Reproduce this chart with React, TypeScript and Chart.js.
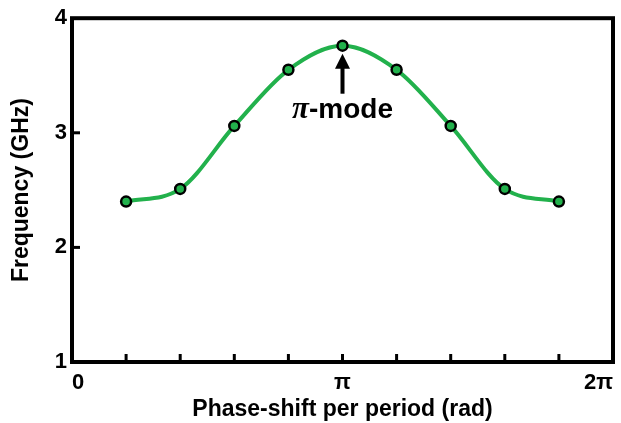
import React, { useEffect, useRef } from "react";
import { Chart, registerables } from "chart.js";

Chart.register(...registerables);

// Phase shift per period, in units of π
const PHASE = [0.2, 0.4, 0.6, 0.8, 1.0, 1.2, 1.4, 1.6, 1.8];
// Frequency in GHz
const FREQ = [2.4, 2.51, 3.06, 3.55, 3.76, 3.55, 3.06, 2.51, 2.4];

const X_TICKS = [0, 0.2, 0.4, 0.6, 0.8, 1.0, 1.2, 1.4, 1.6, 1.8, 2.0];
const X_TICK_LABELS = ["0", "", "", "", "", "π", "", "", "", "", "2π"];
const Y_TICKS = [1, 2, 3, 4];
const Y_TICK_LABELS = ["1", "2", "3", "4"];

const X_TITLE = "Phase-shift per period (rad)";
const Y_TITLE = "Frequency (GHz)";
const ANNOTATION_INDEX = 4;
const ANNOTATION_SYMBOL = "π";
const ANNOTATION_TEXT = "-mode";

const GREEN = "#22b14c";
const SANS = "'Liberation Sans', Arial, sans-serif";
const SERIF = "'Liberation Serif', 'Times New Roman', serif";

const framePlugin = {
  id: "frameAndTicks",
  afterDraw(chart: any) {
    const { ctx, chartArea } = chart;
    const { left, top, right, bottom } = chartArea;
    const xs = chart.scales.x;
    const ys = chart.scales.y;
    ctx.save();
    ctx.strokeStyle = "#000";
    ctx.lineWidth = 4;
    ctx.lineJoin = "miter";
    ctx.strokeRect(left, top, right - left, bottom - top);
    ctx.lineWidth = 3;
    ctx.lineCap = "butt";
    X_TICKS.forEach((v, i) => {
      if (i === 0 || i === X_TICKS.length - 1) return;
      const x = xs.getPixelForValue(v);
      ctx.beginPath();
      ctx.moveTo(x, bottom);
      ctx.lineTo(x, bottom - 8);
      ctx.stroke();
    });
    Y_TICKS.forEach((v, i) => {
      if (i === 0 || i === Y_TICKS.length - 1) return;
      const y = ys.getPixelForValue(v);
      ctx.beginPath();
      ctx.moveTo(left, y);
      ctx.lineTo(left + 8, y);
      ctx.stroke();
    });
    ctx.restore();
  },
  afterDatasetsDraw(chart: any) {
    const { ctx } = chart;
    const xs = chart.scales.x;
    const ys = chart.scales.y;
    const px = xs.getPixelForValue(PHASE[ANNOTATION_INDEX]);
    const py = ys.getPixelForValue(FREQ[ANNOTATION_INDEX]);
    ctx.save();
    ctx.fillStyle = "#000";
    // arrow head
    ctx.beginPath();
    ctx.moveTo(px, py + 8);
    ctx.lineTo(px - 7.5, py + 23);
    ctx.lineTo(px + 7.5, py + 23);
    ctx.closePath();
    ctx.fill();
    // shaft
    ctx.fillRect(px - 2, py + 22, 4, 26);
    // label
    const symFont = `italic bold 31px ${SERIF}`;
    const txtFont = `bold 28px ${SANS}`;
    ctx.font = symFont;
    const w1 = ctx.measureText(ANNOTATION_SYMBOL).width;
    ctx.font = txtFont;
    const w2 = ctx.measureText(ANNOTATION_TEXT).width;
    const start = px - (w1 + w2) / 2;
    const base = py + 72;
    ctx.textBaseline = "alphabetic";
    ctx.textAlign = "left";
    ctx.font = symFont;
    ctx.fillText(ANNOTATION_SYMBOL, start, base);
    ctx.font = txtFont;
    ctx.fillText(ANNOTATION_TEXT, start + w1, base);
    ctx.restore();
  },
};

export default function App() {
  const canvasRef = useRef<HTMLCanvasElement | null>(null);

  useEffect(() => {
    if (!canvasRef.current) return;
    const chart = new Chart(canvasRef.current, {
      type: "line",
      data: {
        datasets: [
          {
            data: PHASE.map((x, i) => ({ x, y: FREQ[i] })),
            borderColor: GREEN,
            borderWidth: 4,
            backgroundColor: GREEN,
            pointBackgroundColor: GREEN,
            pointBorderColor: "#000",
            pointBorderWidth: 2.5,
            pointRadius: 5,
            cubicInterpolationMode: "monotone",
            fill: false,
          },
        ],
      },
      options: {
        animation: false,
        responsive: true,
        maintainAspectRatio: false,
        layout: { padding: { top: 18, right: 5, left: 0, bottom: 0 } },
        plugins: {
          legend: { display: false },
          tooltip: { enabled: false },
        },
        scales: {
          x: {
            type: "linear",
            min: 0,
            max: 2,
            grid: { display: false, drawTicks: false },
            border: { display: false },
            afterBuildTicks: (scale: any) => {
              scale.ticks = X_TICKS.map((v) => ({ value: v }));
            },
            afterFit: (scale: any) => {
              scale.height = 61;
            },
            ticks: {
              autoSkip: false,
              maxRotation: 0,
              align: "inner",
              padding: 8,
              color: "#000",
              font: { family: SANS, size: 22, weight: "bold" },
              callback: (_v: any, i: number) => X_TICK_LABELS[i],
            },
            title: {
              display: true,
              text: X_TITLE,
              color: "#000",
              font: { family: SANS, size: 23, weight: "bold" },
              padding: { top: 0, bottom: 0 },
            },
          },
          y: {
            type: "linear",
            min: 1,
            max: 4,
            grid: { display: false, drawTicks: false },
            border: { display: false },
            afterBuildTicks: (scale: any) => {
              scale.ticks = Y_TICKS.map((v) => ({ value: v }));
            },
            afterFit: (scale: any) => {
              scale.width = 72;
            },
            ticks: {
              autoSkip: false,
              padding: 5,
              color: "#000",
              font: { family: SANS, size: 22, weight: "bold" },
              callback: (_v: any, i: number) => Y_TICK_LABELS[i],
            },
            title: {
              display: true,
              text: Y_TITLE,
              color: "#000",
              font: { family: SANS, size: 23, weight: "bold" },
              padding: { top: 8, bottom: 0 },
            },
          },
        },
      },
      plugins: [framePlugin],
    } as any);
    return () => chart.destroy();
  }, []);

  return (
    <div
      style={{
        position: "fixed",
        left: 0,
        top: 0,
        width: 621,
        height: 423,
        background: "#fff",
      }}
    >
      <canvas ref={canvasRef} />
    </div>
  );
}
